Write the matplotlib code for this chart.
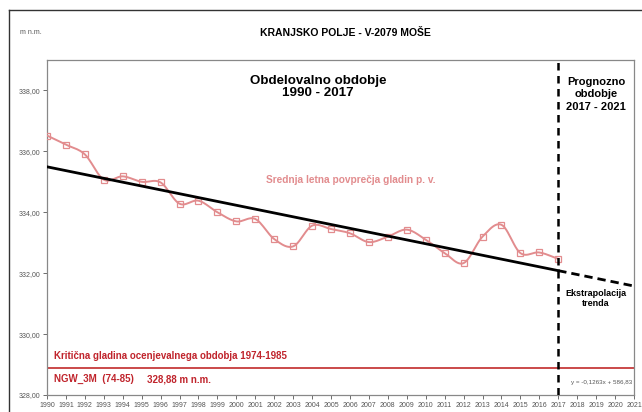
import numpy as np
import matplotlib.pyplot as plt
from matplotlib.lines import Line2D

# Yearly mean groundwater levels (m n.m.) at V-2079 Moše
years = np.arange(1990, 2018)
levels = [336.52, 336.22, 335.90, 335.07, 335.18, 335.00, 334.98, 334.28,
          334.38, 334.00, 333.70, 333.78, 333.12, 332.88, 333.56, 333.45,
          333.31, 333.02, 333.20, 333.43, 333.10, 332.66, 332.33, 333.20,
          333.59, 332.66, 332.68, 332.47]

# Linear trend fitted to the observed period
trend_slope = -0.1263
trend_intercept = 586.83
forecast_years = [2017, 2021]

critical_level = 328.88

y_ticks = [328, 330, 332, 334, 336, 338]
x_ticks = list(range(1990, 2022))

PINK = '#e28c8e'
DARK_RED = '#c0242c'
LINE_RED = '#c63a3c'
GREY = '#555555'


def smooth_curve(x, y, steps=12):
    """Catmull-Rom spline through the points, like a smoothed line in Excel."""
    x = np.asarray(x, float)
    y = np.asarray(y, float)
    px = np.concatenate([[2 * x[0] - x[1]], x, [2 * x[-1] - x[-2]]])
    py = np.concatenate([[2 * y[0] - y[1]], y, [2 * y[-1] - y[-2]]])
    out_x, out_y = [], []
    t = np.linspace(0, 1, steps, endpoint=False)
    for i in range(1, len(px) - 2):
        for arr, out in ((px, out_x), (py, out_y)):
            p0, p1, p2, p3 = arr[i - 1], arr[i], arr[i + 1], arr[i + 2]
            out.extend(0.5 * (2 * p1 + (-p0 + p2) * t
                              + (2 * p0 - 5 * p1 + 4 * p2 - p3) * t ** 2
                              + (-p0 + 3 * p1 - 3 * p2 + p3) * t ** 3))
    out_x.append(x[-1])
    out_y.append(y[-1])
    return out_x, out_y


plt.rcParams['font.family'] = ['Liberation Sans', 'DejaVu Sans']

fig = plt.figure(figsize=(6.42, 4.12), dpi=100)
ax = fig.add_axes([47 / 642, 17 / 412, 587 / 642, 335 / 412])

# frame lines along the top and left edge of the picture
frame_x = 8.5 / 642
frame_y = 1 - 9.5 / 412
fig.add_artist(Line2D([frame_x, 1.0], [frame_y, frame_y],
                      transform=fig.transFigure, color='#333333', lw=1.0))
fig.add_artist(Line2D([frame_x, frame_x], [0.0, frame_y],
                      transform=fig.transFigure, color='#333333', lw=1.0))

# observed yearly means
sx, sy = smooth_curve(years, levels)
ax.plot(sx, sy, color=PINK, linewidth=1.4, zorder=3)
ax.plot(years, levels, linestyle='none', marker='s', markersize=5,
        markerfacecolor='none', markeredgecolor=PINK, markeredgewidth=0.9,
        zorder=4)

# trend line, solid over the observed period, dashed for the forecast
obs_x = np.array([years[0], years[-1]])
ax.plot(obs_x, trend_slope * obs_x + trend_intercept, color='black',
        linewidth=2.0, zorder=5)
fc_x = np.array(forecast_years)
ax.plot(fc_x, trend_slope * fc_x + trend_intercept, color='black',
        linewidth=2.0, linestyle=(0, (3, 1.8)), zorder=5)

# critical level
ax.axhline(critical_level, color=LINE_RED, linewidth=1.3, zorder=2)

# boundary between observed and forecast periods
ax.axvline(2017, color='black', linewidth=1.8, linestyle=(0, (3, 2.2)),
           zorder=6)

ax.set_xlim(1990, 2021)
ax.set_ylim(328, 339)
ax.set_yticks(y_ticks)
ax.set_yticklabels([f'{v:.2f}'.replace('.', ',') for v in y_ticks])
ax.set_xticks(x_ticks)
ax.set_xticklabels([str(v) for v in x_ticks])
ax.tick_params(axis='both', labelsize=5, colors=GREY, length=3, width=0.6,
               pad=2)
for side in ('left', 'top', 'right', 'bottom'):
    ax.spines[side].set_color('#888888')
    ax.spines[side].set_linewidth(0.9)

# headings
fig.text(20 / 642, 1 - 33 / 412, 'm n.m.', fontsize=5, color=GREY,
         va='center')
fig.text(345 / 642, 1 - 33 / 412, 'KRANJSKO POLJE - V-2079 MOŠE',
         fontsize=7.5, fontweight='bold', ha='center', va='center')

ax.text(2004.3, 338.1, 'Obdelovalno obdobje\n1990 - 2017', fontsize=9.6,
        fontweight='bold', ha='center', va='center', linespacing=1.0)
ax.text(2019.0, 337.87, 'Prognozno\nobdobje\n2017 - 2021', fontsize=8,
        fontweight='bold', ha='center', va='center', linespacing=1.3)
ax.text(2001.55, 335.07, 'Srednja letna povprečja gladin p. v.',
        fontsize=7.3, fontweight='bold', color=PINK, va='center')
ax.text(2019.0, 331.16, 'Ekstrapolacija\ntrenda', fontsize=6.5,
        fontweight='bold', ha='center', va='center', linespacing=1.2)
ax.text(1990.35, 329.28, 'Kritična gladina ocenjevalnega obdobja 1974-1985',
        fontsize=7, fontweight='bold', color=DARK_RED, va='center')
ax.text(1990.35, 328.52, 'NGW_3M  (74-85)', fontsize=7, fontweight='bold',
        color=DARK_RED, va='center')
ax.text(1995.3, 328.52, f'{critical_level:.2f}'.replace('.', ',') + ' m n.m.',
        fontsize=7, fontweight='bold', color=DARK_RED, va='center')
ax.text(2020.9, 328.4,
        f'y = {trend_slope:.4f}x + {trend_intercept:.2f}'.replace('.', ','),
        fontsize=4.5, color=GREY, ha='right', va='center')

fig.savefig('out.png', dpi=100, facecolor='white')
